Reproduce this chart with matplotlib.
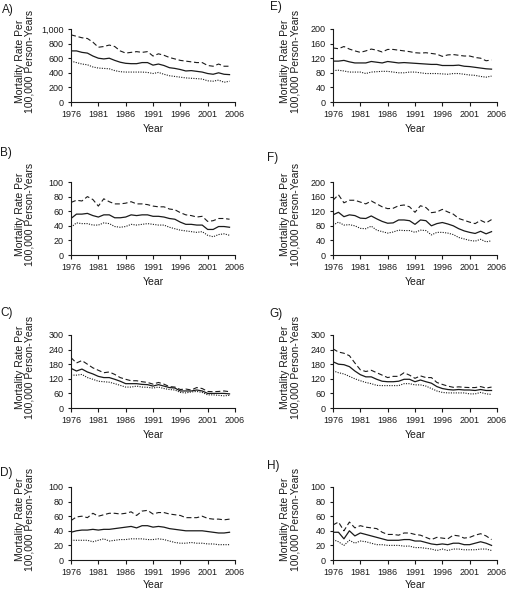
import numpy as np
import matplotlib
matplotlib.use("Agg")
import matplotlib.pyplot as plt

plt.rcParams['font.family'] = ['Liberation Sans', 'DejaVu Sans']

years = list(range(1976, 2006))
xticks = [1976, 1981, 1986, 1991, 1996, 2001, 2006]

# panel A, y 0-1000
a_upper = [920, 900, 880, 870, 820, 750, 760, 780, 760, 700, 670, 680, 690, 680, 690,
           630, 660, 640, 610, 590, 570, 560, 550, 540, 540, 500, 490, 520, 490, 490]
a_mid = [700, 700, 680, 670, 630, 600, 590, 600, 570, 545, 530, 525, 525, 540, 540,
         505, 520, 500, 470, 460, 445, 425, 430, 420, 410, 390, 380, 400, 380, 375]
a_lower = [560, 540, 520, 510, 480, 465, 460, 455, 430, 415, 410, 410, 410, 410, 405,
           390, 405, 380, 360, 350, 340, 330, 325, 320, 315, 290, 285, 300, 270, 285]

# panel B, y 0-100
b_upper = [72, 75, 74, 80, 76, 67, 77, 73, 70, 70, 71, 73, 70, 70, 69,
           67, 66, 66, 63, 62, 58, 55, 54, 52, 53, 46, 47, 50, 50, 49]
b_mid = [50, 56, 56, 57, 54, 52, 55, 55, 51, 51, 52, 55, 54, 55, 55,
         53, 53, 52, 50, 49, 45, 42, 42, 41, 41, 35, 35, 39, 39, 38]
b_lower = [38, 44, 43, 43, 41, 41, 44, 43, 39, 38, 39, 42, 41, 42, 43,
           42, 41, 41, 38, 36, 34, 33, 32, 31, 32, 27, 25, 28, 29, 27]

# panel C, y 0-300
c_upper = [207, 185, 195, 180, 165, 155, 145, 148, 138, 125, 118, 112, 112, 108, 105,
           98, 105, 98, 88, 86, 76, 78, 74, 84, 80, 68, 67, 68, 70, 67]
c_mid = [163, 152, 160, 148, 140, 130, 125, 125, 118, 110, 100, 100, 100, 97, 96,
         90, 96, 90, 84, 82, 70, 70, 70, 74, 70, 60, 60, 60, 60, 58]
c_lower = [135, 135, 138, 125, 118, 110, 108, 106, 100, 93, 86, 86, 90, 86, 85,
           82, 86, 80, 76, 74, 64, 62, 66, 68, 64, 54, 54, 52, 50, 52]

# panel D, y 0-100
d_upper = [54, 59, 60, 58, 64, 60, 62, 64, 64, 63, 64, 66, 61, 67, 68,
           63, 65, 65, 63, 62, 61, 58, 58, 58, 60, 57, 56, 56, 55, 56]
d_mid = [38, 40, 41, 41, 42, 41, 42, 42, 43, 44, 45, 46, 44, 47, 47,
         45, 46, 45, 43, 42, 41, 40, 40, 40, 40, 39, 38, 37, 37, 38]
d_lower = [27, 27, 27, 27, 25, 27, 29, 26, 27, 28, 28, 29, 29, 29, 28,
           28, 29, 28, 26, 24, 23, 23, 24, 23, 23, 22, 22, 21, 21, 21]

# panel E, y 0-200
e_upper = [148, 146, 152, 145, 140, 136, 140, 145, 142, 137, 144, 144, 142, 140, 138,
           135, 134, 135, 133, 131, 125, 129, 130, 128, 126, 126, 122, 120, 113, 115]
e_mid = [112, 112, 114, 110, 107, 107, 107, 111, 109, 107, 111, 109, 107, 108, 107,
         106, 105, 104, 103, 103, 100, 100, 100, 101, 98, 97, 95, 93, 91, 90]
e_lower = [86, 87, 85, 82, 82, 82, 78, 82, 83, 84, 84, 82, 80, 80, 82,
           82, 80, 78, 78, 78, 77, 76, 78, 78, 76, 74, 73, 70, 68, 71]

# panel F, y 0-200
f_upper = [150, 165, 143, 150, 150, 145, 140, 148, 140, 132, 127, 128, 135, 137, 132,
           117, 135, 130, 116, 118, 125, 118, 112, 100, 95, 90, 86, 95, 88, 97]
f_mid = [110, 117, 105, 110, 108, 101, 100, 107, 99, 92, 87, 88, 96, 96, 94,
         84, 96, 94, 80, 86, 89, 85, 80, 72, 66, 62, 59, 65, 58, 64]
f_lower = [82, 90, 82, 83, 80, 73, 72, 79, 68, 64, 60, 63, 68, 67, 67,
           62, 68, 67, 55, 62, 62, 60, 56, 48, 44, 40, 38, 43, 36, 39]

# panel G, y 0-300
g_upper = [243, 230, 225, 215, 185, 157, 150, 155, 145, 135, 125, 130, 130, 145, 135,
           122, 132, 125, 125, 105, 97, 90, 85, 87, 85, 84, 84, 88, 82, 86]
g_mid = [190, 180, 178, 170, 152, 137, 128, 128, 118, 110, 108, 108, 110, 118, 118,
         108, 115, 108, 102, 88, 80, 76, 74, 76, 74, 74, 72, 76, 72, 72]
g_lower = [153, 145, 140, 130, 120, 112, 105, 100, 93, 92, 92, 92, 92, 100, 100,
           95, 95, 90, 80, 70, 64, 62, 62, 62, 62, 58, 58, 64, 58, 56]

# panel H, y 0-100
h_upper = [48, 52, 40, 52, 44, 47, 45, 44, 43, 38, 35, 35, 34, 37, 37,
           35, 34, 31, 28, 31, 30, 29, 34, 33, 30, 31, 34, 36, 33, 28]
h_mid = [38, 38, 29, 40, 33, 37, 35, 33, 31, 29, 27, 27, 27, 28, 28,
         26, 26, 24, 22, 21, 22, 21, 23, 23, 21, 21, 23, 25, 23, 20]
h_lower = [28, 25, 20, 27, 23, 26, 25, 23, 21, 21, 20, 20, 20, 19, 19,
           17, 17, 16, 15, 13, 15, 13, 15, 15, 14, 14, 14, 15, 15, 13]

ticks_1000 = [0, 200, 400, 600, 800, 1000]
labels_1000 = ['0', '200', '400', '600', '800', '1,000']
ticks_200 = [0, 40, 80, 120, 160, 200]
ticks_100 = [0, 20, 40, 60, 80, 100]
ticks_300 = [0, 60, 120, 180, 240, 300]

W, H = 508, 591
fig = plt.figure(figsize=(W / 100, H / 100), dpi=100)

# (letter, upper, mid, lower, yticks, yticklabels, axes box in px: left, top, right, bottom, letter pos)
panels = [
    ('A)', a_upper, a_mid, a_lower, ticks_1000, labels_1000, (71, 29, 235, 102), (2, 4)),
    ('B)', b_upper, b_mid, b_lower, ticks_100, None, (71, 182, 235, 255), (0, 147)),
    ('C)', c_upper, c_mid, c_lower, ticks_300, None, (71, 335, 235, 408), (0, 307)),
    ('D)', d_upper, d_mid, d_lower, ticks_100, None, (71, 487, 235, 560), (0, 467)),
    ('E)', e_upper, e_mid, e_lower, ticks_200, None, (333, 29, 497, 102), (270, 1)),
    ('F)', f_upper, f_mid, f_lower, ticks_200, None, (333, 182, 497, 255), (267, 152)),
    ('G)', g_upper, g_mid, g_lower, ticks_300, None, (333, 335, 497, 408), (269, 308)),
    ('H)', h_upper, h_mid, h_lower, ticks_100, None, (333, 487, 497, 560), (267, 460)),
]

ink = '#1a1a1a'
for letter, up, mid, low, yt, ytl, box, lpos in panels:
    l, t, r, b = box
    ax = fig.add_axes([l / W, 1 - b / H, (r - l) / W, (b - t) / H])
    ax.plot(years, up, color=ink, lw=0.8, ls=(0, (4.5, 2.5)))
    ax.plot(years, mid, color=ink, lw=0.9, ls='-')
    ax.plot(years, low, color=ink, lw=0.8, ls=(0, (1, 1.2)))
    ax.set_xlim(1976, 2006)
    ax.set_ylim(yt[0], yt[-1])
    ax.set_xticks(xticks)
    ax.set_yticks(yt)
    if ytl is not None:
        ax.set_yticklabels(ytl)
    for s in ['top', 'right']:
        ax.spines[s].set_visible(False)
    for s in ['left', 'bottom']:
        ax.spines[s].set_linewidth(0.8)
        ax.spines[s].set_color(ink)
    ax.tick_params(labelsize=6.5, width=0.8, colors=ink)
    ax.tick_params(axis='x', length=3, pad=2.5)
    ax.tick_params(axis='y', length=2.5, pad=3)
    ax.set_xlabel('Year', fontsize=7.5, labelpad=4 if b < 500 else 2.5, color=ink)
    fig.text((l - 46 if l < 200 else l - 43) / W, 1 - ((t + b) / 2 - 4) / H,
             'Mortality Rate Per\n100,000 Person-Years', rotation=90,
             ha='center', va='center', fontsize=7.5, color=ink,
             multialignment='center', linespacing=1.0)
    fig.text(lpos[0] / W, 1 - lpos[1] / H, letter, ha='left', va='top',
             fontsize=8.5, color=ink)

fig.savefig('out.png', dpi=100)
